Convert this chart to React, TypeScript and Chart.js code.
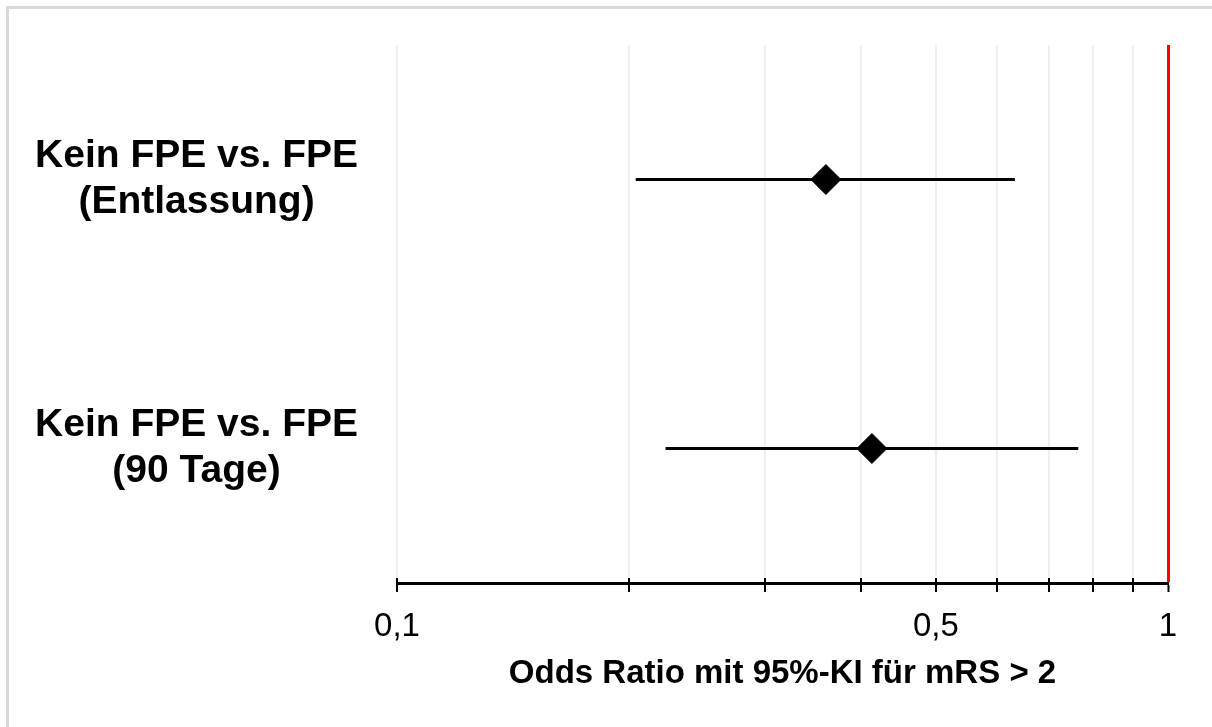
import React, { useEffect, useRef } from "react";
import { Chart, registerables } from "chart.js";

Chart.register(...registerables);

// ---- data ----
const categories: string[][] = [
  ["Kein FPE vs. FPE", "(Entlassung)"],
  ["Kein FPE vs. FPE", "(90 Tage)"],
];
const oddsRatios: number[] = [0.36, 0.413];
const ciLower: number[] = [0.204, 0.223];
const ciUpper: number[] = [0.633, 0.765];

const xTickValues: number[] = [0.1, 0.2, 0.3, 0.4, 0.5, 0.6, 0.7, 0.8, 0.9, 1];
const labeledTickValues: number[] = [0.1, 0.5, 1];
const labeledTickTexts: string[] = ["0,1", "0,5", "1"];
const xTitle = "Odds Ratio mit 95%-KI für mRS > 2";
const referenceValue = 1;

const FONT = "'Liberation Sans', Arial, sans-serif";

const upTicksPlugin = {
  id: "upTicks",
  afterDraw(chart: any) {
    const xs = chart.scales.x;
    const ctx = chart.ctx;
    const yAxis = chart.chartArea.bottom;
    ctx.save();
    ctx.strokeStyle = "#000";
    ctx.lineWidth = 2;
    xTickValues.forEach((v) => {
      if (v === referenceValue) return;
      const px = Math.round(xs.getPixelForValue(v));
      ctx.beginPath();
      ctx.moveTo(px, yAxis - 5);
      ctx.lineTo(px, yAxis);
      ctx.stroke();
    });
    ctx.restore();
  },
};

export default function App() {
  const canvasRef = useRef<HTMLCanvasElement | null>(null);

  useEffect(() => {
    if (!canvasRef.current) return;
    const rowPos = categories.map((_, i) => i + 0.5);

    const ciDatasets = categories.map((_, i) => ({
      type: "line" as const,
      data: [
        { x: ciLower[i], y: rowPos[i] },
        { x: ciUpper[i], y: rowPos[i] },
      ],
      borderColor: "#000",
      borderWidth: 3,
      pointRadius: 0,
      showLine: true,
      order: 2,
    }));

    const chart = new Chart(canvasRef.current, {
      type: "scatter",
      data: {
        datasets: [
          ...ciDatasets,
          {
            type: "scatter" as const,
            data: oddsRatios.map((v, i) => ({ x: v, y: rowPos[i] })),
            pointStyle: "rectRot",
            pointRadius: 15,
            backgroundColor: "#000",
            borderColor: "#000",
            borderWidth: 1,
            order: 1,
          },
        ] as any,
      },
      options: {
        animation: false,
        responsive: true,
        maintainAspectRatio: false,
        layout: { padding: { top: 45, right: 44, bottom: 29, left: 0 } },
        plugins: { legend: { display: false }, tooltip: { enabled: false } },
        scales: {
          x: {
            type: "logarithmic",
            min: 0.1,
            max: 1,
            afterBuildTicks: (scale: any) => {
              scale.ticks = xTickValues.map((v) => ({ value: v }));
            },
            afterFit: (scale: any) => {
              scale.height = 115;
            },
            ticks: {
              autoSkip: false,
              maxRotation: 0,
              padding: 15,
              color: "#000",
              font: { family: FONT, size: 33 },
              callback: (value: any) => {
                const idx = labeledTickValues.findIndex((t) => Math.abs(t - Number(value)) < 1e-9);
                return idx >= 0 ? labeledTickTexts[idx] : "";
              },
            },
            grid: {
              color: (c: any) => (c.tick && Math.abs(c.tick.value - referenceValue) < 1e-9 ? "#ff0000" : "#efefef"),
              lineWidth: (c: any) => (c.tick && Math.abs(c.tick.value - referenceValue) < 1e-9 ? 3 : 2),
              tickColor: "#000",
              tickWidth: 2,
              tickLength: 9,
            },
            border: { display: true, color: "#000", width: 3 },
            title: {
              display: true,
              text: xTitle,
              color: "#000",
              font: { family: FONT, size: 33, weight: "bold" },
              padding: { top: 8, bottom: 4 },
            },
          },
          y: {
            type: "linear",
            min: 0,
            max: categories.length,
            reverse: true,
            afterBuildTicks: (scale: any) => {
              scale.ticks = rowPos.map((v) => ({ value: v }));
            },
            afterFit: (scale: any) => {
              scale.width = 397;
              scale.paddingTop = 0;
              scale.paddingBottom = 0;
            },
            ticks: {
              crossAlign: "center",
              padding: 39,
              color: "#000",
              font: { family: FONT, size: 39, weight: "bold", lineHeight: 1.17 },
              callback: (value: any) => {
                const idx = rowPos.findIndex((p) => Math.abs(p - Number(value)) < 1e-9);
                return idx >= 0 ? categories[idx] : "";
              },
            },
            grid: { display: false, drawTicks: false },
            border: { display: false },
          },
        },
      } as any,
      plugins: [upTicksPlugin],
    });
    return () => chart.destroy();
  }, []);

  return (
    <>
      <div
        style={{
          position: "fixed",
          left: 6,
          top: 6,
          right: -20,
          bottom: -20,
          border: "3px solid #d9d9d9",
          boxSizing: "border-box",
        }}
      />
      <div style={{ position: "absolute", left: 0, top: 0, width: 1212, height: 727 }}>
        <canvas ref={canvasRef} />
      </div>
    </>
  );
}
